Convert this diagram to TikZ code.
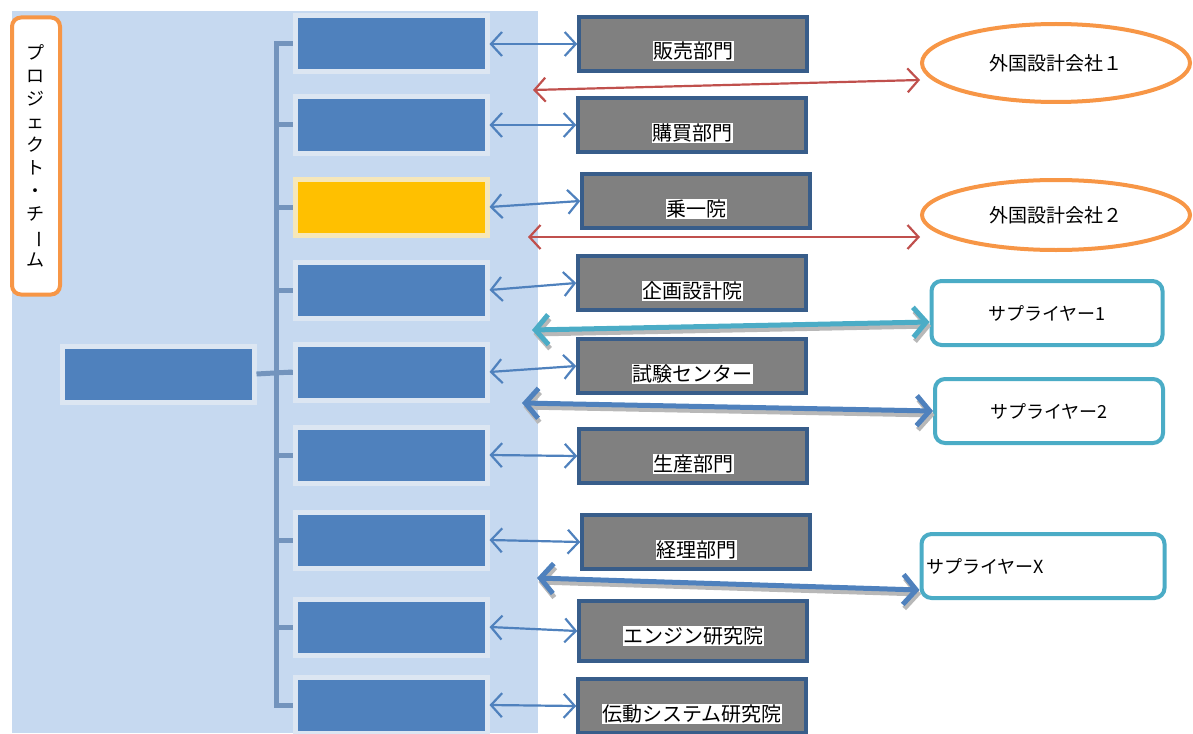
\documentclass[tikz,border=0pt]{standalone}
\usepackage{fontspec}
\setmainfont{Noto Sans CJK JP}
\usetikzlibrary{arrows.meta,shapes.geometric}
\definecolor{panelblue}{HTML}{C6D9F0}
\definecolor{boxblue}{HTML}{4F81BD}
\definecolor{glowblue}{HTML}{DCE6F2}
\definecolor{darkblue}{HTML}{385D8A}
\definecolor{pmgold}{HTML}{FFC000}
\definecolor{glowgold}{HTML}{F6E7B9}
\definecolor{trunkblue}{HTML}{7394BD}
\definecolor{teamorange}{HTML}{F79646}
\definecolor{linkred}{HTML}{C0504D}
\definecolor{suppteal}{HTML}{4BACC6}
\tikzset{
  member/.style={fill=boxblue, draw=glowblue, line width=5pt,
    minimum width=192pt, minimum height=56pt},
  pmbox/.style={member, fill=pmgold, draw=glowgold},
  dept/.style={fill=gray, draw=darkblue, line width=3.5pt,
    minimum width=228pt, minimum height=54pt},
  tag/.style={fill=white, inner sep=0.5pt, font=\fontsize{20}{22}\selectfont},
  foreign/.style={ellipse, draw=teamorange, line width=4pt, fill=white,
    minimum width=268pt, font=\fontsize{19}{22}\selectfont},
  supplier/.style={draw=suppteal, line width=4pt, fill=white, rounded corners=10pt,
    minimum height=64pt, font=\fontsize{18}{22}\selectfont},
  trunk/.style={draw=trunkblue, line width=5pt},
  link/.style={arrows={Straight Barb[length=11pt,width=24pt]-Straight Barb[length=11pt,width=24pt]},
    draw=boxblue, line width=2.2pt},
  biglink/.style={arrows={Straight Barb[length=13pt,width=30pt]-Straight Barb[length=13pt,width=30pt]},
    line width=5pt, line join=round},
  shade/.style={biglink, draw=black!28, transform canvas={xshift=1.5pt,yshift=-4pt}}
}
\begin{document}
\begin{tikzpicture}[x=1pt,y=-1pt]
  \useasboundingbox (0,0) rectangle (1193,733);
  \fill[panelblue] (12,11) rectangle (538,733);

  \node[draw=teamorange, line width=4pt, fill=white, rounded corners=9pt,
    minimum width=48pt, minimum height=277pt, inner sep=0pt, align=center,
    font=\fontsize{18}{23}\selectfont] (team) at (36,156)
    {プ\\ロ\\ジ\\ェ\\ク\\ト\\・\\チ\\\rotatebox[origin=c]{-90}{ー}\\ム};

  \path
    (158,374) node[member] (pm) {}
    (391,44)  node[member] (b1) {}
    (391,125) node[member] (b2) {}
    (391,207) node[pmbox]  (b3) {}
    (391,290) node[member] (b4) {}
    (391,372) node[member] (b5) {}
    (391,455) node[member] (b6) {}
    (391,540) node[member] (b7) {}
    (391,627) node[member] (b8) {}
    (391,705) node[member] (b9) {};

  \coordinate (tk) at (276,400);
  \draw[trunk] (b1.west) -| (tk) |- (b9.west);
  \foreach \i in {2,...,8}
    \draw[trunk] (b\i.west) -- (b\i.west -| tk);
  \draw[trunk] (pm.east) -- (b5.west);

  \path
    (693,44)  node[dept] (g1) {}
    (692,125) node[dept] (g2) {}
    (696,201) node[dept] (g3) {}
    (692,283) node[dept] (g4) {}
    (692,366) node[dept] (g5) {}
    (693,456) node[dept] (g6) {}
    (696,542) node[dept] (g7) {}
    (693,631) node[dept, minimum height=60pt] (g8) {}
    (692,706) node[dept] (g9) {};
  \node[tag] at ([yshift=-7pt]g1.center) {販売部門};
  \node[tag] at ([yshift=-8pt]g2.center) {購買部門};
  \node[tag] at ([yshift=-8pt]g3.center) {乗一院};
  \node[tag] at ([yshift=-8pt]g4.center) {企画設計院};
  \node[tag] at ([yshift=-8pt]g5.center) {試験センター};
  \node[tag] at ([yshift=-8pt]g6.center) {生産部門};
  \node[tag] at ([yshift=-8pt]g7.center) {経理部門};
  \node[tag] at ([yshift=-5pt]g8.center) {エンジン研究院};
  \node[tag] at ([yshift=-8pt]g9.center) {伝動システム研究院};

  \foreach \i in {1,...,9}
    \draw[link] (b\i.east) -- (g\i.west);

  \node[foreign, minimum height=78pt] (gai1) at (1056,63) {外国設計会社１};
  \node[foreign, minimum height=70pt] (gai2) at (1056,215) {外国設計会社２};
  \node[supplier, minimum width=231pt] (sup1) at (1047,313) {サプライヤー1};
  \node[supplier, minimum width=228pt] (sup2) at (1049,411) {サプライヤー2};
  \node[supplier, text width=233pt, align=left, inner xsep=5pt] (spx) at (1043,566) {サプライヤーX};

  % links to the outside partners
  \coordinate (r1) at (533,90);
  \coordinate (r2) at (528,237);
  \coordinate (s1) at (532,330);
  \coordinate (s2) at (522,403);
  \coordinate (sx) at (537,578);
  \begin{scope}[link]
    \draw[draw=linkred] (r1) -- ([yshift=-17pt]gai1.west);
    \draw[draw=linkred] (r2) -- ([yshift=-22pt]gai2.west);
  \end{scope}
  \draw[shade] (s1) -- ([yshift=-9pt]sup1.west);
  \draw[shade] (s2) -- (sup2.west);
  \draw[shade] (sx) -- ([yshift=-24pt]spx.west);
  \draw[biglink, draw=suppteal] (s1) -- ([yshift=-9pt]sup1.west);
  \draw[biglink, draw=boxblue] (s2) -- (sup2.west);
  \draw[biglink, draw=boxblue] (sx) -- ([yshift=-24pt]spx.west);
\end{tikzpicture}
\end{document}
